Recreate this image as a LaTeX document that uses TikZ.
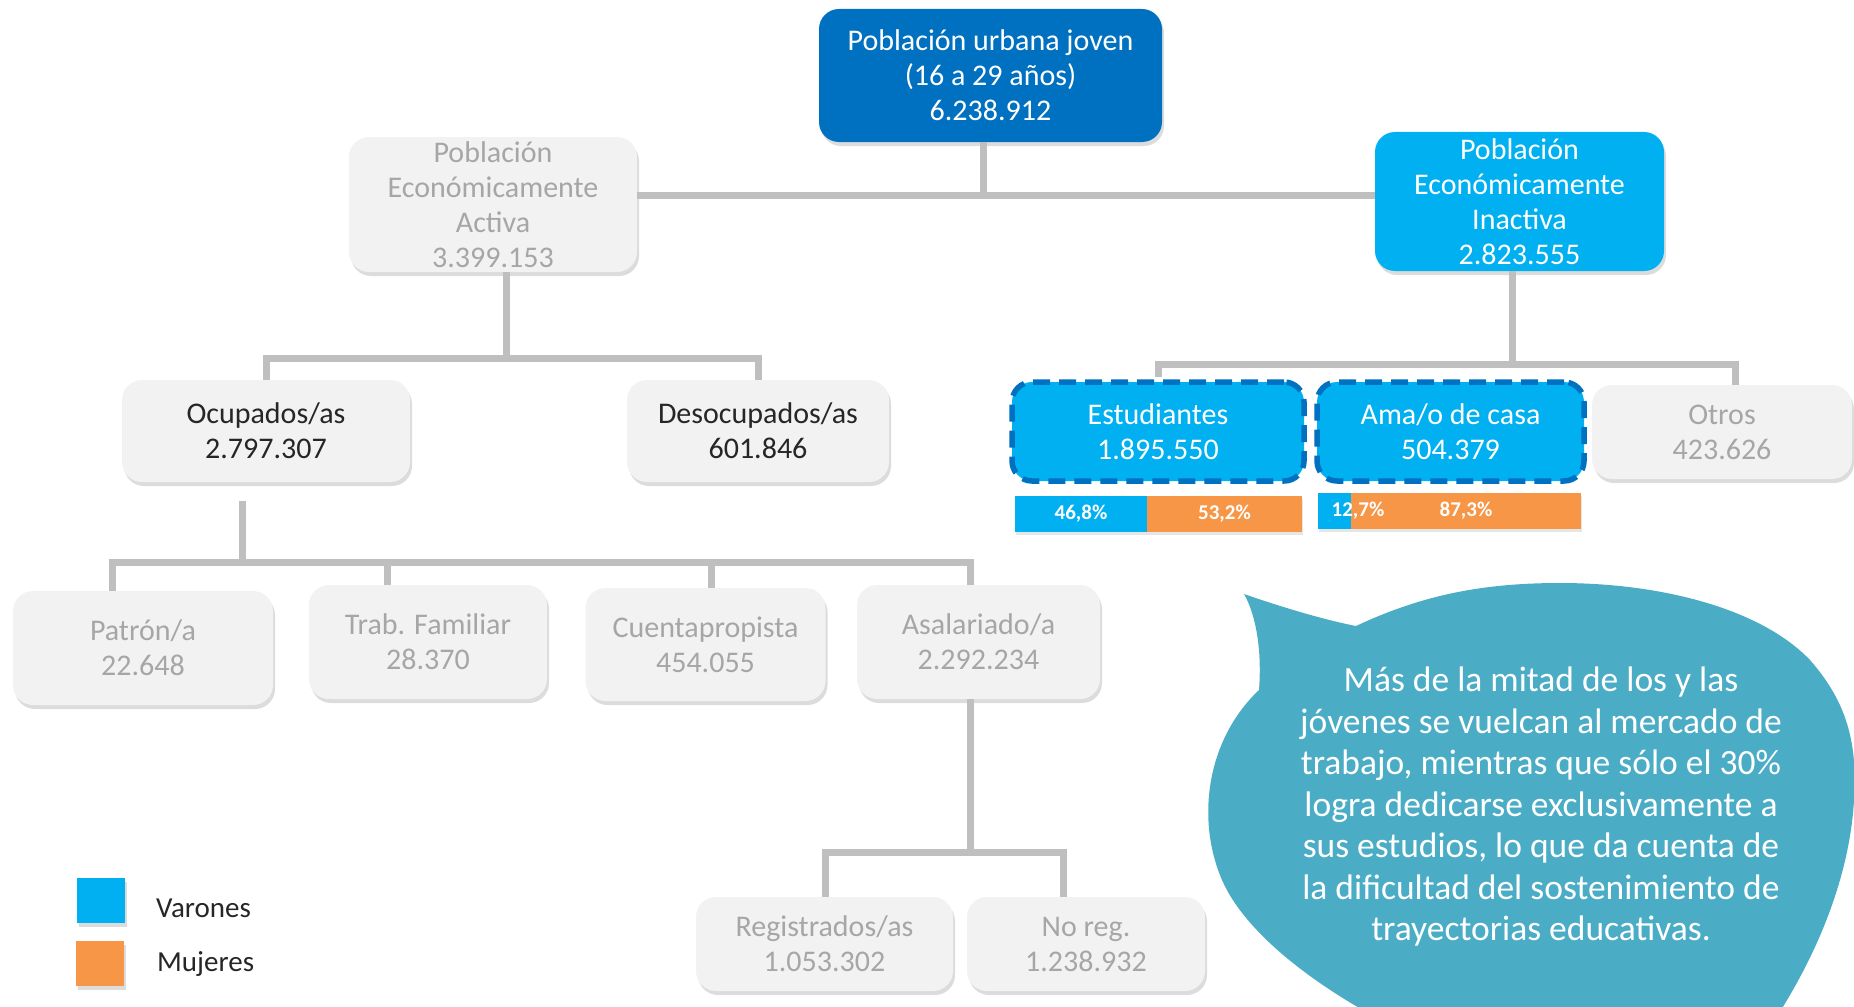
\documentclass[tikz,border=0pt]{standalone}
\usepackage{fontspec}
\setmainfont{Carlito}
\usetikzlibrary{shadows}
\definecolor{dkblue}{HTML}{0070C0}
\definecolor{ltblue}{HTML}{00B0F0}
\definecolor{boxgray}{HTML}{F2F2F2}
\definecolor{txtgray}{HTML}{A6A6A6}
\definecolor{txtdark}{HTML}{262626}
\definecolor{linegray}{HTML}{BFBFBF}
\definecolor{orng}{HTML}{F79646}
\definecolor{bubblecol}{HTML}{4BACC6}
\begin{document}
\begin{tikzpicture}[x=1pt,y=-1pt,
  box/.style={rounded corners=20pt, inner sep=0pt, align=center,
    font=\fontsize{30}{35}\selectfont,
    drop shadow={shadow xshift=2pt, shadow yshift=-4pt, opacity=0.28}},
  graybox/.style={box, fill=boxgray, text=txtgray},
  darkbox/.style={box, fill=boxgray, text=txtdark},
  bluebox/.style={box, fill=ltblue, text=white},
  topbox/.style={box, fill=dkblue, text=white},
  dashbox/.style={rounded corners=20pt, inner sep=0pt, align=center,
    font=\fontsize{30}{35}\selectfont, fill=ltblue, text=white,
    draw=dkblue, line width=5.5pt, dash pattern=on 17pt off 9pt},
  conn/.style={draw=linegray, line width=7pt},
  barseg/.style={inner sep=0pt, minimum height=36pt, text=white,
    font=\fontsize{21}{23}\bfseries\selectfont,
    drop shadow={shadow xshift=1pt, shadow yshift=-3pt, opacity=0.2}},
  bartxt/.style={inner sep=0pt, text=white, font=\fontsize{21}{23}\bfseries\selectfont},
  legsq/.style={inner sep=0pt, minimum width=48pt, minimum height=45pt,
    drop shadow={shadow xshift=2pt, shadow yshift=-4pt, opacity=0.28}},
  legtxt/.style={inner sep=0pt, anchor=west, text=txtdark, font=\fontsize{29}{34}\selectfont},
  bubtxt/.style={inner sep=0pt, align=center, text=white, font=\fontsize{35.5}{41.5}\selectfont}
]
\useasboundingbox (0,0) rectangle (1854,1006);

% speech bubble
\begin{scope}
\clip (0,0) rectangle (1854,1006);
\fill[bubblecol] (1244,594)
  .. controls (1290,610) and (1330,621) .. (1356,626)
  .. controls (1420,596) and (1480,583) .. (1560,583)
  .. controls (1660,583) and (1760,608) .. (1810,660)
  .. controls (1845,700) and (1858,740) .. (1854,800)
  .. controls (1850,870) and (1822,950) .. (1768,1030)
  -- (1400,1030)
  .. controls (1320,990) and (1246,935) .. (1222,880)
  .. controls (1196,820) and (1206,740) .. (1259,690)
  .. controls (1262,650) and (1256,615) .. (1244,594) -- cycle;
\end{scope}
\node[bubtxt] (bub) at (1541,807) {Más de la mitad de los y las\\jóvenes se vuelcan al mercado de\\trabajo, mientras que sólo el 30\%\\logra dedicarse exclusivamente a\\sus estudios, lo que da cuenta de\\la dificultad del sostenimiento de\\trayectorias educativas.};

% nodes
\node[topbox, minimum width=343pt, minimum height=133pt] (top) at (990.5,75.5) {Población urbana joven\\(16 a 29 años)\\6.238.912};
\node[graybox, minimum width=288pt, minimum height=135pt] (pea) at (493,204.5) {Población\\Económicamente\\Activa\\3.399.153};
\node[bluebox, minimum width=289pt, minimum height=139pt] (pei) at (1519.5,201.5) {Población\\Económicamente\\Inactiva\\2.823.555};
\node[darkbox, minimum width=288pt, minimum height=102pt] (ocu) at (266,431) {Ocupados/as\\2.797.307};
\node[darkbox, minimum width=262pt, minimum height=102pt] (deso) at (758,431) {Desocupados/as\\601.846};
\node[dashbox, minimum width=292pt, minimum height=99pt] (est) at (1158,431.5) {Estudiantes\\1.895.550};
\node[dashbox, minimum width=267pt, minimum height=99pt] (ama) at (1450.5,431.5) {Ama/o de casa\\504.379};
\node[graybox, minimum width=260pt, minimum height=94pt] (otros) at (1722,432) {Otros\\423.626};
\node[graybox, minimum width=260pt, minimum height=114pt] (patron) at (143,648) {Patrón/a\\22.648};
\node[graybox, minimum width=238pt, minimum height=114pt] (trab) at (428,642) {Trab. Familiar\\28.370};
\node[graybox, minimum width=240pt, minimum height=113pt] (cuenta) at (705.5,644.5) {Cuentapropista\\454.055};
\node[graybox, minimum width=243pt, minimum height=114pt] (asal) at (978.5,642) {Asalariado/a\\2.292.234};
\node[graybox, minimum width=257pt, minimum height=94pt] (reg) at (824.5,944) {Registrados/as\\1.053.302};
\node[graybox, minimum width=238pt, minimum height=94pt] (noreg) at (1086,944) {No reg.\\1.238.932};

% bars
\node[barseg, fill=ltblue, minimum width=132pt] (eb) at (1081,514) {46,8\%};
\node[barseg, fill=orng, minimum width=155pt] (eo) at (1224.5,514) {53,2\%};
\node[barseg, fill=ltblue, minimum width=33pt] (ab) at (1334.5,511) {};
\node[barseg, fill=orng, minimum width=230pt] (ao) at (1466,511) {87,3\%};
\node[bartxt] (abt) at (1358,511) {12,7\%};

% legend
\node[legsq, fill=ltblue] (legv) at (101,900.5) {};
\node[legsq, fill=orng] (legm) at (99.5,963) {};
\node[legtxt] (legvt) at (156,908) {Varones};
\node[legtxt] (legmt) at (157,964) {Mujeres};

% connectors
\coordinate (j0) at (983,195);
\draw[conn] (top.south -| j0) -- (j0);
\draw[conn] (pea.east |- j0) -- (pei.west |- j0);

\coordinate (j1) at (506,358);
\draw[conn] (pea.south -| j1) -- (j1);
\draw[conn] (ocu.north) |- (j1) -| (deso.north);

\coordinate (j2) at (1512,364);
\coordinate (jo) at (1735,364);
\draw[conn] (pei.south -| j2) -- (j2);
\draw[conn] ([yshift=2.75pt]est.north) |- (jo) -- (otros.north -| jo);

\coordinate (j3) at (242,562);
\coordinate (dp) at (112,562);
\coordinate (dt) at (387,562);
\coordinate (dc) at (711,562);
\coordinate (da) at (970,562);
\draw[conn] ([yshift=-19pt]ocu.south -| j3) -- (j3);
\draw[conn] (patron.north -| dp) -- (dp) -- (da) -- (asal.north -| da);
\draw[conn] (dt) -- (trab.north -| dt);
\draw[conn] (dc) -- (cuenta.north -| dc);

\coordinate (j4) at (970,852);
\coordinate (dr) at (825,852);
\coordinate (dn) at (1063,852);
\draw[conn] (asal.south -| j4) -- (j4);
\draw[conn] (reg.north -| dr) -- (dr) -- (dn) -- (noreg.north -| dn);
\end{tikzpicture}
\end{document}
